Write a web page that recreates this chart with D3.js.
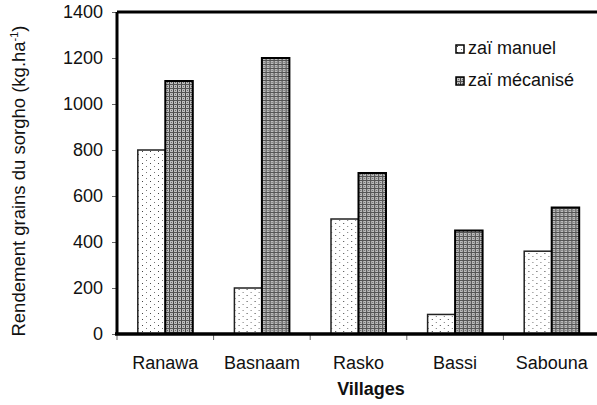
<!DOCTYPE html>
<html>
<head>
<meta charset="utf-8">
<script src="https://cdn.jsdelivr.net/npm/d3@7"></script>
<style>
body { margin: 0; background: #fff; }
text { font-family: Arial, "Liberation Sans", sans-serif; fill: #111; }
</style>
</head>
<body>
<svg id="chart" width="597" height="405"></svg>
<script>
var villages = ["Ranawa", "Basnaam", "Rasko", "Bassi", "Sabouna"];
var seriesNames = ["zaï manuel", "zaï mécanisé"];
var manuel = [800, 200, 500, 85, 360];
var mecanise = [1100, 1200, 700, 450, 550];
var yTicks = [0, 200, 400, 600, 800, 1000, 1200, 1400];

var svg = d3.select("#chart"),
    margin = {top: 12, right: -3, bottom: 71, left: 117},
    width = +svg.attr("width") - margin.left - margin.right,
    height = +svg.attr("height") - margin.top - margin.bottom,
    g = svg.append("g").attr("transform", "translate(" + margin.left + "," + margin.top + ")");

var defs = svg.append("defs");

// dotted pattern for the manual series
var p1 = defs.append("pattern").attr("id", "dots")
  .attr("patternUnits", "userSpaceOnUse").attr("width", 8).attr("height", 6);
p1.append("rect").attr("width", 8).attr("height", 6).attr("fill", "#fff");
p1.append("rect").attr("x", 1).attr("y", 1).attr("width", 1).attr("height", 1).attr("fill", "#444");
p1.append("rect").attr("x", 5).attr("y", 4).attr("width", 1).attr("height", 1).attr("fill", "#777");

// checkered pattern for the mechanised series
var p2 = defs.append("pattern").attr("id", "checks")
  .attr("patternUnits", "userSpaceOnUse").attr("width", 4).attr("height", 4);
p2.append("rect").attr("width", 4).attr("height", 4).attr("fill", "#bdbdbd");
p2.append("rect").attr("x", 0).attr("y", 0).attr("width", 1).attr("height", 4).attr("fill", "#444");
p2.append("rect").attr("x", 0).attr("y", 0).attr("width", 4).attr("height", 1).attr("fill", "#555");
p2.append("rect").attr("x", 2).attr("y", 2).attr("width", 1).attr("height", 1).attr("fill", "#666");

var x0 = d3.scaleBand().domain(villages).range([0, width]).paddingInner(0).paddingOuter(0);
var bw = 27.5;
var x1 = d3.scaleBand().domain(seriesNames)
  .range([x0.bandwidth() / 2 - bw, x0.bandwidth() / 2 + bw]);
var y = d3.scaleLinear().domain([0, 1400]).range([height, 0]);

var data = villages.map(function(v, i) {
  return {village: v, values: [{s: seriesNames[0], v: manuel[i]}, {s: seriesNames[1], v: mecanise[i]}]};
});

// bars
var grp = g.selectAll(".grp").data(data).enter().append("g")
  .attr("transform", function(d) { return "translate(" + x0(d.village) + ",0)"; });

grp.selectAll("rect").data(function(d) { return d.values; }).enter().append("rect")
  .attr("x", function(d) { return x1(d.s); })
  .attr("y", function(d) { return y(d.v); })
  .attr("width", x1.bandwidth())
  .attr("height", function(d) { return height - y(d.v); })
  .attr("fill", function(d, i) { return i == 0 ? "url(#dots)" : "url(#checks)"; })
  .attr("stroke", function(d, i) { return i == 0 ? "#222" : "#000"; })
  .attr("stroke-width", function(d, i) { return i == 0 ? 1.5 : 2; });

// y axis
var yAxis = g.append("g")
  .call(d3.axisLeft(y).tickValues(yTicks).tickFormat(d3.format("d")).tickSize(5).tickPadding(9));
yAxis.select(".domain").remove();
yAxis.selectAll("line").attr("stroke", "#666");
yAxis.selectAll("text").style("font-size", "18px").attr("fill", "#111");

// x axis
var xAxis = g.append("g")
  .attr("transform", "translate(0," + height + ")")
  .call(d3.axisBottom(x0).tickSize(0).tickPadding(22));
xAxis.select(".domain").remove();
xAxis.selectAll("text").style("font-size", "18px").attr("fill", "#111");
g.append("g").selectAll("line").data(villages).enter().append("line")
  .attr("x1", function(d) { return x0(d); }).attr("x2", function(d) { return x0(d); })
  .attr("y1", height).attr("y2", height + 6)
  .attr("stroke", "#666");

// frame lines
g.append("line").attr("x1", 0).attr("x2", 0).attr("y1", 0).attr("y2", height)
  .attr("stroke", "#000").attr("stroke-width", 3);
g.append("line").attr("x1", 0).attr("x2", width).attr("y1", 0).attr("y2", 0)
  .attr("stroke", "#000").attr("stroke-width", 3);
g.append("line").attr("x1", -2).attr("x2", width).attr("y1", height).attr("y2", height)
  .attr("stroke", "#000").attr("stroke-width", 3.5);

// axis titles
svg.append("text")
  .attr("transform", "translate(25," + (margin.top + height / 2 + 8) + ") rotate(-90)")
  .attr("text-anchor", "middle")
  .style("font-size", "18.5px")
  .html("Rendement grains du sorgho (kg.ha<tspan dy='-7' style='font-size:11px'>-1</tspan><tspan dy='7'>)</tspan>");

svg.append("text")
  .attr("x", margin.left + 254).attr("y", 395)
  .attr("text-anchor", "middle")
  .style("font-size", "18px").style("font-weight", "bold")
  .text("Villages");

// legend
var leg = svg.append("g").attr("transform", "translate(456,45)");
seriesNames.forEach(function(s, i) {
  var r = leg.append("g").attr("transform", "translate(0," + (i * 32) + ")");
  r.append("rect").attr("x", 0).attr("y", 0).attr("width", 8).attr("height", 8)
    .attr("fill", i == 0 ? "url(#dots)" : "url(#checks)")
    .attr("stroke", "#000").attr("stroke-width", 1.5);
  r.append("text").attr("x", 12).attr("y", 9)
    .style("font-size", "18px").text(s);
});
</script>
</body>
</html>
